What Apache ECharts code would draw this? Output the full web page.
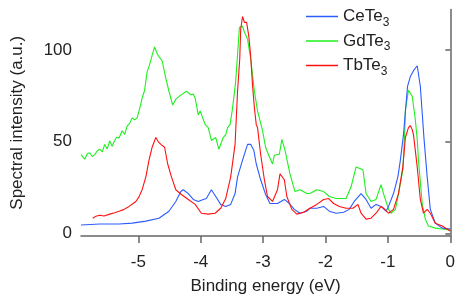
<!DOCTYPE html>
<html>
<head>
<meta charset="utf-8">
<script src="https://cdn.jsdelivr.net/npm/echarts@6/dist/echarts.min.js"></script>
<style>html,body{margin:0;padding:0;background:#fff}#c{width:458px;height:300px}</style>
</head>
<body>
<div id="c"></div>
<script>
const seriesNames = ['CeTe3', 'GdTe3', 'TbTe3'];
const xTicks = [-5, -4, -3, -2, -1, 0];
const yTicks = [0, 50, 100];

const ceTe3 = [[-5.92,4.7],[-5.62,5.2],[-5.31,5.2],[-5.10,5.7],[-4.88,6.8],[-4.67,8.4],[-4.51,12.2],[-4.40,17.5],[-4.32,22.9],[-4.28,23.9],[-4.20,21.8],[-4.12,18.6],[-4.04,17.5],[-3.96,18.6],[-3.91,19.1],[-3.83,23.9],[-3.76,20.2],[-3.68,15.9],[-3.60,14.8],[-3.52,15.9],[-3.45,21.8],[-3.41,30.9],[-3.33,40.0],[-3.25,48.6],[-3.20,48.6],[-3.15,45.4],[-3.11,37.9],[-3.04,29.3],[-2.96,21.3],[-2.89,16.4],[-2.77,16.4],[-2.66,18.6],[-2.58,16.4],[-2.50,13.2],[-2.41,11.1],[-2.30,12.2],[-2.25,13.8],[-2.14,13.8],[-2.03,14.8],[-1.94,12.2],[-1.83,11.1],[-1.71,11.6],[-1.62,13.2],[-1.54,17.5],[-1.43,21.8],[-1.35,18.6],[-1.27,13.8],[-1.19,15.9],[-1.11,14.8],[-1.03,12.2],[-0.99,14.8],[-0.91,21.8],[-0.84,30.9],[-0.80,40.0],[-0.75,53.9],[-0.685,80.2],[-0.64,85.5],[-0.59,88.7],[-0.53,91.4],[-0.48,80.2],[-0.45,65.7],[-0.42,51.3],[-0.37,30.9],[-0.32,13.2],[-0.24,5.7],[-0.13,3.0],[0,2.5]];

const gdTe3 = [[-5.92,43],[-5.89,44],[-5.86,40.5],[-5.82,43.5],[-5.78,44],[-5.74,42],[-5.70,43],[-5.66,45],[-5.62,46],[-5.58,44.5],[-5.54,48.5],[-5.50,46],[-5.46,50.5],[-5.42,47.5],[-5.39,50],[-5.35,52.5],[-5.31,52],[-5.26,56],[-5.22,54],[-5.18,58.5],[-5.14,60],[-5.10,63],[-5.06,62],[-5.02,63],[-4.98,68],[-4.94,73.8],[-4.90,78],[-4.86,88.2],[-4.82,92],[-4.78,97],[-4.74,101.6],[-4.70,98],[-4.67,96.3],[-4.62,94.1],[-4.56,84.5],[-4.51,77.5],[-4.45,70],[-4.40,73.2],[-4.32,75.4],[-4.23,77.5],[-4.16,75.5],[-4.12,76],[-4.09,73.8],[-4.04,64.6],[-4.01,66.8],[-3.93,59.3],[-3.88,57.7],[-3.83,50.7],[-3.80,49.7],[-3.76,52.3],[-3.71,45.9],[-3.64,52.3],[-3.60,53.9],[-3.57,57.7],[-3.53,59.3],[-3.49,68.4],[-3.44,82.9],[-3.38,112.3],[-3.33,112.9],[-3.30,109.6],[-3.25,105.9],[-3.20,95.2],[-3.14,77.5],[-3.09,66.8],[-3.01,56.1],[-2.96,47.0],[-2.93,44.3],[-2.85,37.9],[-2.82,42.7],[-2.74,43.2],[-2.70,51.3],[-2.65,45.4],[-2.57,32.5],[-2.49,22.9],[-2.41,23.9],[-2.30,21.8],[-2.25,21.8],[-2.14,23.9],[-2.03,22.9],[-1.94,20.2],[-1.83,19.1],[-1.67,19.1],[-1.59,25.5],[-1.51,36.3],[-1.48,36.3],[-1.40,34.7],[-1.35,21.8],[-1.27,17.5],[-1.19,18.6],[-1.11,26.6],[-1.07,21.8],[-0.99,13.2],[-0.95,11.1],[-0.88,13.2],[-0.83,21.8],[-0.76,34.7],[-0.73,55.0],[-0.72,67.3],[-0.67,78.0],[-0.61,74.8],[-0.56,62.0],[-0.53,51.3],[-0.51,40.0],[-0.45,16.4],[-0.40,7.9],[-0.35,4.1],[-0.24,3.0],[-0.13,2.5],[0,2.0]];

const tbTe3 = [[-5.73,8.4],[-5.68,9.5],[-5.62,10.0],[-5.55,9.6],[-5.46,10.6],[-5.38,11.4],[-5.31,12.2],[-5.23,13.2],[-5.15,14.8],[-5.04,17.5],[-4.99,20],[-4.94,23.9],[-4.88,30.9],[-4.83,40.0],[-4.78,47.0],[-4.72,52.3],[-4.68,50],[-4.64,48.6],[-4.58,47.0],[-4.53,37.9],[-4.47,30.9],[-4.40,23.9],[-4.31,21.3],[-4.20,18.6],[-4.09,15.9],[-3.99,11.1],[-3.88,10.6],[-3.77,11.1],[-3.68,13.8],[-3.60,19.1],[-3.52,30.9],[-3.45,48.6],[-3.41,77.5],[-3.375,95.2],[-3.36,111.2],[-3.33,118.2],[-3.30,115.0],[-3.265,115.0],[-3.23,107.5],[-3.20,96.8],[-3.17,80.7],[-3.14,68.4],[-3.11,59.3],[-3.09,57.7],[-3.04,43.2],[-2.98,29.3],[-2.93,20.2],[-2.85,17.5],[-2.77,23.9],[-2.73,32.5],[-2.66,29.3],[-2.62,20.2],[-2.54,13.2],[-2.46,10.6],[-2.35,11.6],[-2.25,13.8],[-2.14,15.9],[-2.03,18.6],[-1.95,19.1],[-1.87,16.4],[-1.78,14.8],[-1.67,13.8],[-1.56,13.8],[-1.48,15.9],[-1.43,11.1],[-1.35,7.9],[-1.27,8.4],[-1.19,11.1],[-1.11,14.8],[-1.07,13.8],[-0.99,11.1],[-0.91,13.2],[-0.83,21.8],[-0.76,36.3],[-0.72,52.3],[-0.67,57.7],[-0.64,58.8],[-0.61,56.6],[-0.59,53.9],[-0.53,36.3],[-0.48,18.6],[-0.43,11.1],[-0.37,13.2],[-0.32,11.1],[-0.24,5.7],[-0.13,4.1],[0,1.4]];

const colors = ['#2a5cff', '#1ef01e', '#ff1010'];
const dataSets = [ceTe3, gdTe3, tbTe3];

const chart = echarts.init(document.getElementById('c'), null, {renderer: 'canvas'});
const font = 'Liberation Sans, Arial, sans-serif';
chart.setOption({
  animation: false,
  backgroundColor: '#fff',
  grid: {left: 81, right: 2.7, top: 9.5, bottom: 60, containLabel: false},
  legend: {
    orient: 'vertical', left: 301, top: 3, itemGap: 4,
    itemWidth: 32, itemHeight: 1.5, icon: 'rect',
    textStyle: {fontFamily: font, fontSize: 17, color: '#222',
      rich: {s: {fontFamily: font, fontSize: 12, color: '#222', padding: [12, 0, 0, 0]}}},
    formatter: n => n.replace(/(\d+)$/, '{s|$1}'),
    data: seriesNames
  },
  xAxis: {
    type: 'value', min: -5.92, max: 0,
    name: 'Binding energy (eV)', nameLocation: 'middle', nameGap: 42,
    nameTextStyle: {fontFamily: font, fontSize: 17, color: '#222'},
    axisLine: {onZero: false, lineStyle: {color: '#666', width: 1.5}},
    axisTick: {show: true, inside: false, length: 7, customValues: xTicks, lineStyle: {color: '#666', width: 1.5}},
    axisLabel: {customValues: xTicks, margin: 18, fontFamily: font, fontSize: 17, color: '#222'},
    splitLine: {show: false}
  },
  yAxis: {
    type: 'value', min: -1.3, max: 122,
    name: 'Spectral intensity (a.u.)', nameLocation: 'middle', nameGap: 55,
    nameTextStyle: {fontFamily: font, fontSize: 17, color: '#222'},
    axisLine: {show: true, lineStyle: {color: '#666', width: 1.5}},
    axisTick: {show: true, length: 5, customValues: yTicks, lineStyle: {color: '#666', width: 1.5}},
    axisLabel: {customValues: yTicks, margin: 9, fontFamily: font, fontSize: 17, color: '#222'},
    splitLine: {show: false}
  },
  series: seriesNames.map((n, i) => ({
    name: n, type: 'line', data: dataSets[i], showSymbol: false, symbol: 'none',
    lineStyle: {color: colors[i], width: 1.1}, itemStyle: {color: colors[i]},
    z: i === 0 ? 3 : (i === 1 ? 2 : 4)
  }))
});
</script>
</body>
</html>
